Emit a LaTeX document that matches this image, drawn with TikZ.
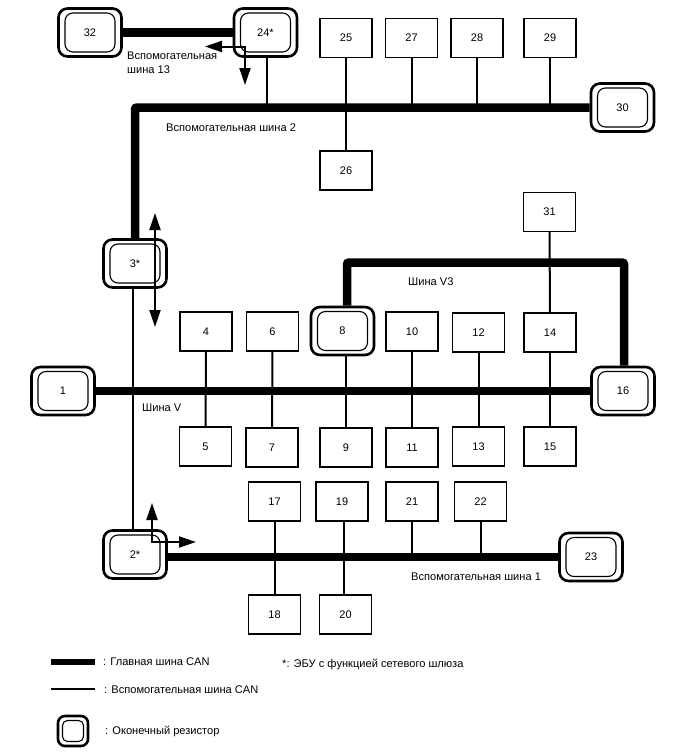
\documentclass[tikz,border=0pt]{standalone}
\usepackage{fontspec}
\setmainfont{Liberation Sans}
\usepackage{xcolor}
\usepackage{tikz}
\usetikzlibrary{calc}
\usetikzlibrary{arrows.meta}

\tikzset{
  ecubox/.style={draw,line width=1.2pt,minimum width=52pt,minimum height=39pt,inner sep=0pt,font=\fontsize{11}{13}\selectfont},
  termbox/.style={draw,line width=2.6pt,rounded corners=9pt,minimum width=63pt,minimum height=48pt,inner sep=0pt,font=\fontsize{11}{13}\selectfont,
    path picture={\draw[line width=1.1pt,rounded corners=8pt]
      ([shift={(6.5pt,-4.5pt)}]path picture bounding box.north west) rectangle
      ([shift={(-6.5pt,4.5pt)}]path picture bounding box.south east);}},
  mainbus/.style={line width=8.5pt,rounded corners=2pt},
  subbus/.style={line width=2pt},
  busname/.style={inner sep=0pt,anchor=west,align=left,font=\fontsize{11.1}{14}\selectfont},
  flowarrow/.style={line width=2pt,{Triangle[length=17pt,width=11pt]}-{Triangle[length=17pt,width=11pt]}}
}

\begin{document}
\begin{tikzpicture}[x=1pt,y=-1pt]
\useasboundingbox (0,0) rectangle (688,755);

% Units with terminating resistors
\node[termbox] (n32) at (90,32.5) {32};
\node[termbox] (n24) at (265.5,32.5) {24*};
\node[termbox] (n30) at (622.5,107.5) {30};
\node[termbox] (n3) at (135,263.5) {3*};
\node[termbox] (n8) at (342.5,331) {8};
\node[termbox] (n1) at (63,391) {1};
\node[termbox] (n16) at (623,391) {16};
\node[termbox] (n2) at (135,554.5) {2*};
\node[termbox] (n23) at (591,557) {23};

% Plain units
\node[ecubox] (n25) at (346,38) {25};
\node[ecubox] (n27) at (411.5,38) {27};
\node[ecubox] (n28) at (477,38) {28};
\node[ecubox] (n29) at (550,38) {29};
\node[ecubox] (n26) at (346,170.5) {26};
\node[ecubox] (n31) at (549.5,212) {31};
\node[ecubox] (n4) at (206,331.5) {4};
\node[ecubox] (n6) at (272.5,331.5) {6};
\node[ecubox] (n10) at (412,331.5) {10};
\node[ecubox] (n12) at (478.5,332.5) {12};
\node[ecubox] (n14) at (550,332.5) {14};
\node[ecubox] (n5) at (205.5,446.5) {5};
\node[ecubox] (n7) at (272,447.5) {7};
\node[ecubox] (n9) at (346,447.5) {9};
\node[ecubox] (n11) at (412,447.5) {11};
\node[ecubox] (n13) at (478.5,446.5) {13};
\node[ecubox] (n15) at (550,446.5) {15};
\node[ecubox] (n17) at (274.5,501.5) {17};
\node[ecubox] (n19) at (342,501.5) {19};
\node[ecubox] (n21) at (412,501.5) {21};
\node[ecubox] (n22) at (480.5,501.5) {22};
\node[ecubox] (n18) at (274.5,614.5) {18};
\node[ecubox] (n20) at (345.5,614.5) {20};

% Main buses
\coordinate (v3corner) at (624,262.5);
\draw[mainbus] (n32) -- (n24);
\draw[mainbus] (n3.north) |- (n30.west);
\draw[mainbus] ([xshift=4.5pt]n8.north) |- (v3corner) -- (v3corner |- n16.north);
\draw[mainbus] (n1) -- (n16);
\draw[mainbus] (n2.east |- n23) -- (n23);

% Sub buses
\draw[subbus] ([xshift=1.5pt]n24.south) -- ([xshift=1.5pt]n24.south |- n30);
\draw[subbus] (n25) -- (n26);
\draw[subbus] (n27) -- (n27 |- n30);
\draw[subbus] (n28) -- (n28 |- n30);
\draw[subbus] (n29) -- (n29 |- n30);
\draw[subbus] ([xshift=-2pt]n3.south) -- ([xshift=-2pt]n3.south |- n2.north);
\draw[subbus] (n31) -- (n14);
\draw[subbus] (n4) -- (n5);
\draw[subbus] (n6) -- (n7);
\draw[subbus] (n8.south -| n9) -- (n9);
\draw[subbus] (n10) -- (n11);
\draw[subbus] (n12) -- (n13);
\draw[subbus] (n14) -- (n15);
\draw[subbus] (n17) -- (n18);
\draw[subbus] ([xshift=1.5pt]n19.south) -- ([xshift=-2pt]n20.north);
\draw[subbus] (n21) -- (n21 |- n23);
\draw[subbus] (n22) -- (n22 |- n23);

% Direction arrows
\coordinate (a3top) at (155,213);
\coordinate (a3bot) at (155,327);
\draw[flowarrow] (a3top) -- (a3bot);
\coordinate (a24left) at (205,46.5);
\coordinate (a24down) at (245,85);
\draw[flowarrow] (a24left) -| (a24down);
\coordinate (a2up) at (152,503);
\coordinate (a2right) at (196,542);
\draw[flowarrow] (a2up) |- (a2right);

% Bus names
\node[busname] (b13) at (127,63) {Вспомогательная\\шина 13};
\node[busname] (b2) at (166,128) {Вспомогательная шина 2};
\node[busname] (bv3) at (408,282) {Шина V3};
\node[busname] (bv) at (142,408) {Шина V};
\node[busname] (b1) at (411,577) {Вспомогательная шина 1};

% Key
\coordinate (keymain1) at (51,662);
\coordinate (keymain2) at (95,662);
\coordinate (keysub1) at (51,689);
\coordinate (keysub2) at (95,689);
\draw[line width=6pt] (keymain1) -- (keymain2);
\draw[subbus] (keysub1) -- (keysub2);
\node[draw,line width=2.6pt,rounded corners=7pt,minimum width=30pt,minimum height=30pt,inner sep=0pt] (keyterm) at (73,731) {};
\node[draw,line width=1.1pt,rounded corners=5pt,minimum width=21pt,minimum height=21pt,inner sep=0pt] (keyterm2) at (73,731) {};
\node[busname] (keyt1) at (103,662) {: Главная шина CAN};
\node[busname] (keyt2) at (104,690) {: Вспомогательная шина CAN};
\node[busname] (keyt3) at (105,732) {: Оконечный резистор};
\node[busname] (keyt4) at (282,665) {*: ЭБУ с функцией сетевого шлюза};
\end{tikzpicture}
\end{document}
